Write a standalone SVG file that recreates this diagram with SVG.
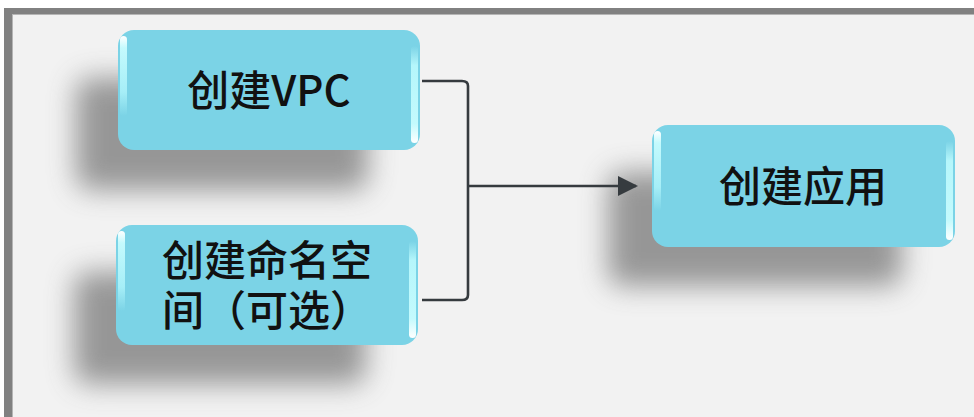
<svg xmlns="http://www.w3.org/2000/svg" width="974" height="417" viewBox="0 0 974 417">
<defs>
<style>
.node{fill:#7bd3e6;}
.txt{font-family:"Noto Sans CJK SC","Microsoft YaHei",sans-serif;font-size:42px;font-weight:500;fill:#111;}
.shadow{fill:#808080;}
.conn{fill:none;stroke:#363b3f;stroke-width:2.6;}
</style>
<filter id="blur" x="-30%" y="-50%" width="160%" height="200%">
<feGaussianBlur stdDeviation="14"/>
</filter>
<linearGradient id="hlL" x1="0" y1="0" x2="0" y2="1">
<stop offset="0" stop-color="#ffffff"/>
<stop offset="0.15" stop-color="#c4fafd"/>
<stop offset="0.7" stop-color="#a6eef7"/>
<stop offset="1" stop-color="#7bd3e6"/>
</linearGradient>
<linearGradient id="hlR" x1="0" y1="0" x2="0" y2="1">
<stop offset="0" stop-color="#7bd3e6"/>
<stop offset="0.2" stop-color="#b5f6fb"/>
<stop offset="0.8" stop-color="#c4fafd"/>
<stop offset="1" stop-color="#ffffff"/>
</linearGradient>
<marker id="arrow" viewBox="0 0 20 20" refX="18" refY="10" markerWidth="20" markerHeight="20" markerUnits="userSpaceOnUse" orient="auto">
<path d="M0,0 L20,10 L0,20 Z" fill="#363b3f"/>
</marker>
</defs>
<rect x="0" y="0" width="974" height="417" fill="#ffffff"/>
<rect x="4" y="8" width="970" height="409" fill="#818181"/>
<rect x="12" y="14" width="962" height="403" fill="#f2f2f2"/>
<rect x="12" y="14" width="962" height="1" fill="#b5b5b5"/>
<rect x="12" y="14" width="1" height="403" fill="#b5b5b5"/>

<g id="shadows" filter="url(#blur)" opacity="0.8">
<rect class="shadow" x="76" y="78" width="292" height="112" rx="14"/>
<rect class="shadow" x="74" y="272" width="292" height="112" rx="14"/>
<rect class="shadow" x="608" y="172" width="294" height="114" rx="14"/>
</g>

<g id="connectors">
<path class="conn" d="M422,81 L462,81 Q468,81 468,86 L468,295 Q468,300 462,300 L422,300"/>
<path class="conn" d="M468,186 L636,186" marker-end="url(#arrow)"/>
</g>

<g id="node-vpc">
<rect class="node" x="118" y="30" width="302" height="120" rx="16"/>
<rect x="120" y="36" width="7" height="80" rx="3.5" fill="url(#hlL)"/>
<rect x="411" y="46" width="7" height="97" rx="3.5" fill="url(#hlR)"/>
<text class="txt" x="269" y="106" text-anchor="middle">创建VPC</text>
</g>

<g id="node-namespace">
<rect class="node" x="116" y="225" width="302" height="120" rx="16"/>
<rect x="118" y="231" width="7" height="80" rx="3.5" fill="url(#hlL)"/>
<rect x="409" y="241" width="7" height="97" rx="3.5" fill="url(#hlR)"/>
<text class="txt" text-anchor="middle"><tspan x="267" y="276">创建命名空</tspan><tspan x="267" y="326">间（可选）</tspan></text>
</g>

<g id="node-app">
<rect class="node" x="652" y="125" width="303" height="122" rx="16"/>
<rect x="654" y="131" width="7" height="80" rx="3.5" fill="url(#hlL)"/>
<rect x="946" y="141" width="7" height="99" rx="3.5" fill="url(#hlR)"/>
<text class="txt" x="803" y="202" text-anchor="middle">创建应用</text>
</g>
</svg>
